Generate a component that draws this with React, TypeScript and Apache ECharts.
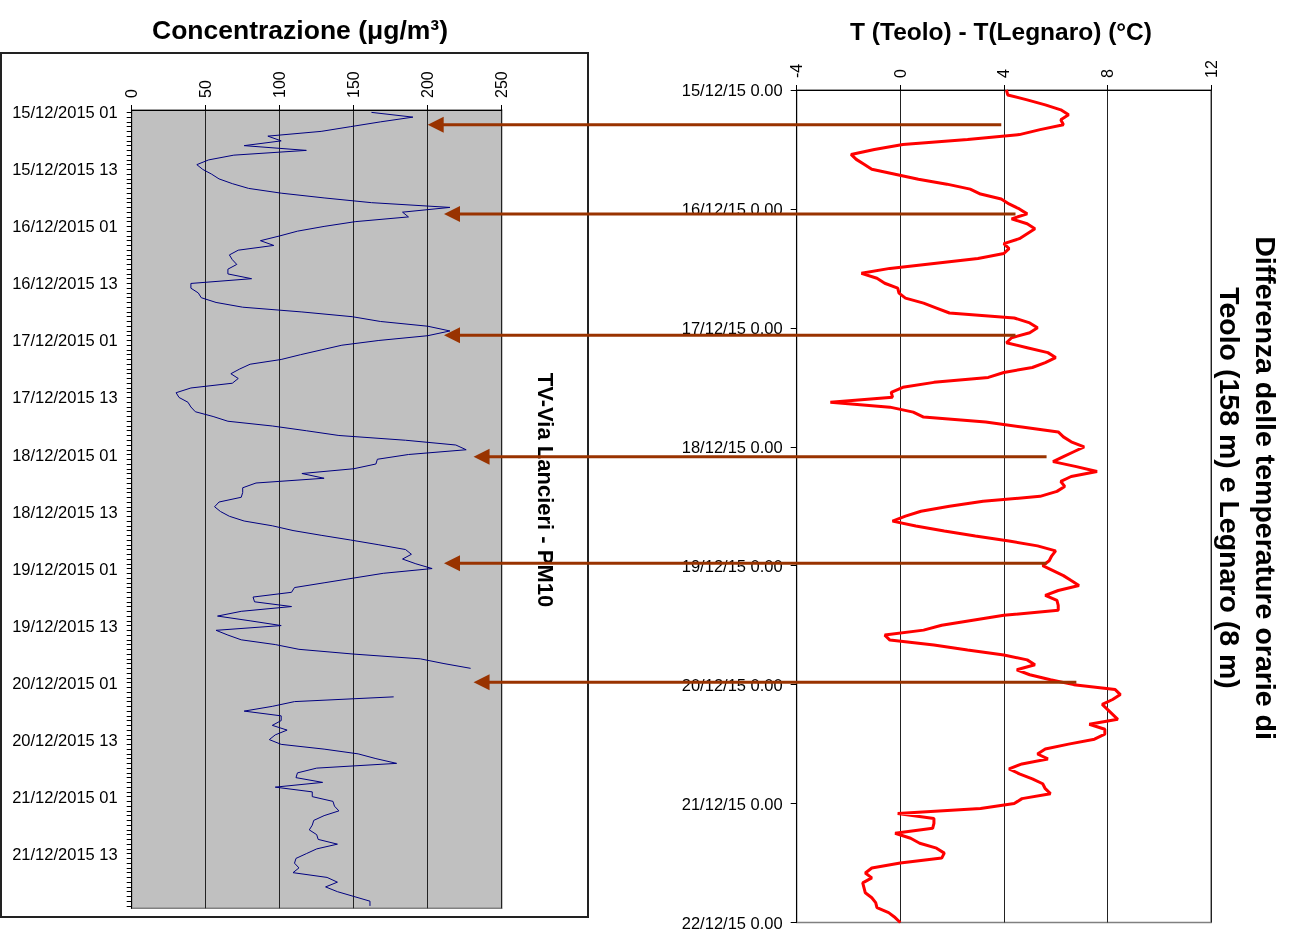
import React, { useEffect, useRef } from "react";
import * as echarts from "echarts";

const FONT = '"Liberation Sans", Arial, sans-serif';

// PM10 hourly concentration (µg/m3), 15/12/2015 01 .. 22/12/2015 00
const PM10: (number | null)[] = [
  162, 190, 168, 148, 128, 92, 101, 76, 118, 69,
  52, 44, 48, 54, 59, 68, 79, 101, 130, 162,
  215, 183, 187, 151, 130, 112, 100, 87, 96, 72,
  66, 68, 71, 65, 65, 81, 40, 40, 45, 47,
  57, 75, 115, 149, 168, 200, 215, 200, 167, 142,
  128, 114, 101, 80, 73, 67, 72, 68, 40, 30,
  32, 38, 40, 43, 55, 65, 95, 118, 140, 185,
  219, 226, 187, 166, 165, 150, 115, 130, 84, 75,
  75, 74, 59, 56, 60, 66, 76, 95, 109, 128,
  148, 167, 185, 189, 183, 192, 203, 170, 150, 130,
  110, 108, 82, 83, 108, 74, 58, 80, 101, 57,
  65, 74, 97, 113, 150, 195, 211, 229, null, null,
  null, null, null, 177, 110, 95, 76, 101, 101, 95,
  105, 97, 93, 101, 130, 153, 165, 179, 125, 112,
  111, 129, 97, 122, 122, 136, 137, 140, 130, 123,
  122, 120, 125, 126, 139, 125, 118, 111, 110, 113,
  109, 132, 139, 131, 139, 150, 161, 161,
];

// T(Teolo) - T(Legnaro) hourly (°C), 15/12/15 0.00 .. 22/12/15 0.00
const TEMP_DIFF: number[] = [
  4.1, 4.15, 4.9, 5.6, 6.2, 6.5, 6.2, 6.3, 5.4, 4.6,
  2.6, 0.1, -1.0, -1.9, -1.7, -1.4, -1.1, -0.2, 0.7, 1.8,
  2.7, 3.1, 3.9, 4.2, 4.6, 4.9, 4.3, 4.9, 5.2, 4.9,
  4.6, 4.0, 4.2, 4.0, 3.0, 1.3, -0.4, -1.5, -0.9, -0.6,
  -0.1, -0.05, 0.2, 0.9, 1.4, 1.9, 4.4, 5.0, 5.3, 5.0,
  4.3, 4.1, 4.9, 5.7, 6.0, 5.6, 5.1, 4.0, 3.4, 1.3,
  0.1, -0.35, -0.3, -2.7, -0.4, 0.5, 0.9, 3.3, 4.7, 6.1,
  6.3, 6.6, 7.1, 6.7, 6.3, 5.9, 6.8, 7.6, 6.6, 6.2,
  6.35, 6.05, 5.4, 3.2, 1.9, 0.8, 0.2, -0.3, 0.6, 1.7,
  2.9, 4.2, 5.3, 6.0, 5.85, 5.75, 5.5, 5.9, 6.3, 6.6,
  6.9, 6.1, 5.6, 6.05, 6.1, 6.1, 4.0, 2.8, 1.6, 0.9,
  -0.6, -0.4, 1.3, 2.6, 4.0, 4.9, 5.2, 4.5, 5.0, 5.8,
  6.7, 8.3, 8.5, 8.2, 7.8, 8.0, 8.2, 8.4, 7.3, 7.9,
  7.9, 7.5, 6.5, 5.6, 5.3, 5.7, 4.7, 4.2, 4.6, 5.1,
  5.5, 5.6, 5.8, 4.7, 4.4, 3.1, -0.1, 1.3, 1.3, 1.25,
  -0.2, 0.4, 0.75, 1.4, 1.7, 1.6, 0, -1.1, -1.35, -1.1,
  -1.45, -1.4, -1.35, -1.1, -0.95, -0.9, -0.45, -0.2, 0.0,
];

const PM_START_DAY = 15;
const PM_CATEGORIES: string[] = PM10.map((_, i) => {
  const t = i + 1;
  const d = PM_START_DAY + Math.floor(t / 24);
  const h = t % 24;
  return `${d}/12/2015 ${String(h).padStart(2, "0")}`;
});

const PM_AXIS = { min: 0, max: 250, interval: 50 };
const T_AXIS = { min: -4, max: 12, interval: 4 };
const HOURS_AXIS = { min: 0, max: 168, interval: 24 };

// arrows: hour on the temperature panel, start temperature, target PM10 value
const ARROW_HOURS = [7, 25, 49.5, 74, 95.5, 119.5];
const ARROW_FROM_T = [3.9, 4.45, 4.45, 5.65, 5.65, 6.8];
const ARROW_TO_PM = [200, 211, 211, 231, 211, 231];

const TITLE_LEFT = "Concentrazione (μg/m³)";
const TITLE_RIGHT = "T (Teolo) - T(Legnaro) (°C)";
const STATION = "TV-Via Lancieri - PM10";
const SIDE_TITLE = "Differenza delle temperature orarie di\nTeolo (158 m) e Legnaro (8 m)";

const ARROW_COLOR = "#993300";

export default function App() {
  const ref = useRef<HTMLDivElement>(null);
  useEffect(() => {
    const chart = echarts.init(ref.current!, null, { renderer: "svg" });
    const labelStyle = { fontFamily: FONT, fontSize: 16.5, color: "#000" };
    chart.setOption({
      animation: false,
      grid: [
        {
          left: 131.7, top: 110, width: 370, height: 798.3,
          show: true, backgroundColor: "#C0C0C0", borderColor: "#808080", borderWidth: 1.5,
        },
        {
          left: 796.7, top: 90, width: 414.3, height: 832.5,
          show: true, backgroundColor: "transparent", borderColor: "#808080", borderWidth: 1.5,
        },
      ],
      xAxis: [
        {
          gridIndex: 0, type: "value", position: "top", ...PM_AXIS,
          axisLine: { show: true, onZero: false, lineStyle: { color: "#000", width: 1 } },
          axisTick: { show: true, length: 5, lineStyle: { color: "#000" } },
          axisLabel: { ...labelStyle, fontSize: 16, rotate: -90, margin: 12 },
          splitLine: { show: true, lineStyle: { color: "#222", width: 1 } },
        },
        {
          gridIndex: 1, type: "value", position: "top", ...T_AXIS,
          axisLine: { show: true, onZero: false, lineStyle: { color: "#000", width: 1 } },
          axisTick: { show: true, length: 5, lineStyle: { color: "#000" } },
          axisLabel: { ...labelStyle, fontSize: 16, rotate: -90, margin: 12 },
          splitLine: { show: true, lineStyle: { color: "#222", width: 1 } },
        },
      ],
      yAxis: [
        {
          gridIndex: 0, type: "category", inverse: true, boundaryGap: true,
          data: PM_CATEGORIES,
          axisLine: { show: true, onZero: false, lineStyle: { color: "#000", width: 1 } },
          axisTick: { show: true, interval: 0, alignWithLabel: true, length: 5, lineStyle: { color: "#000" } },
          axisLabel: { ...labelStyle, interval: 11, margin: 14 },
          splitLine: { show: false },
        },
        {
          gridIndex: 1, type: "value", inverse: true, ...HOURS_AXIS,
          axisLine: { show: true, onZero: false, lineStyle: { color: "#000", width: 1 } },
          axisTick: { show: true, length: 6, lineStyle: { color: "#000" } },
          axisLabel: {
            ...labelStyle, margin: 14,
            formatter: (v: number) => `${15 + v / 24}/12/15 0.00`,
          },
          splitLine: { show: false },
        },
      ],
      series: [
        {
          type: "line", xAxisIndex: 0, yAxisIndex: 0,
          data: PM10.map((v, i) => [v === null ? "-" : v, i]),
          showSymbol: false, symbol: "none", connectNulls: false,
          lineStyle: { color: "#000080", width: 1 },
          z: 3,
        },
        {
          type: "line", xAxisIndex: 1, yAxisIndex: 1,
          data: TEMP_DIFF.map((v, h) => [v, h]),
          showSymbol: false, symbol: "none",
          lineStyle: { color: "#FF0000", width: 3 },
          z: 3,
        },
      ],
    });

    const arrows: any[] = [];
    ARROW_HOURS.forEach((h, k) => {
      const start = chart.convertToPixel({ gridIndex: 1 }, [ARROW_FROM_T[k], h]) as number[];
      const tip = chart.convertToPixel({ xAxisIndex: 0 }, ARROW_TO_PM[k]) as number;
      const y = start[1];
      arrows.push({
        type: "line", z: 100,
        shape: { x1: start[0], y1: y, x2: tip + 12, y2: y },
        style: { stroke: ARROW_COLOR, lineWidth: 3 },
      });
      arrows.push({
        type: "polygon", z: 101,
        shape: { points: [[tip, y], [tip + 16, y - 8], [tip + 16, y + 8]] },
        style: { fill: ARROW_COLOR },
      });
    });

    chart.setOption({
      graphic: [
        {
          type: "rect", z: -1, silent: true,
          shape: { x: 1, y: 53, width: 587, height: 864 },
          style: { fill: "none", stroke: "#222", lineWidth: 2 },
        },
        {
          type: "text", x: 300, y: 30,
          style: { text: TITLE_LEFT, font: `bold 26.5px ${FONT}`, fill: "#000", textAlign: "center", textVerticalAlign: "middle" },
        },
        {
          type: "text", x: 1001, y: 31,
          style: { text: TITLE_RIGHT, font: `bold 24.5px ${FONT}`, fill: "#000", textAlign: "center", textVerticalAlign: "middle" },
        },
        {
          type: "text", x: 545, y: 490, rotation: -Math.PI / 2,
          style: { text: STATION, font: `bold 22px ${FONT}`, fill: "#000", textAlign: "center", textVerticalAlign: "middle" },
        },
        {
          type: "text", x: 1248, y: 488, rotation: -Math.PI / 2,
          style: {
            text: SIDE_TITLE, font: `bold 28.5px ${FONT}`, lineHeight: 36, fill: "#000",
            textAlign: "center", textVerticalAlign: "middle",
          },
        },
        ...arrows,
      ],
    });
    return () => chart.dispose();
  }, []);
  return (
    <div
      ref={ref}
      style={{ position: "fixed", left: 0, top: 0, width: 1289, height: 931 }}
    />
  );
}
